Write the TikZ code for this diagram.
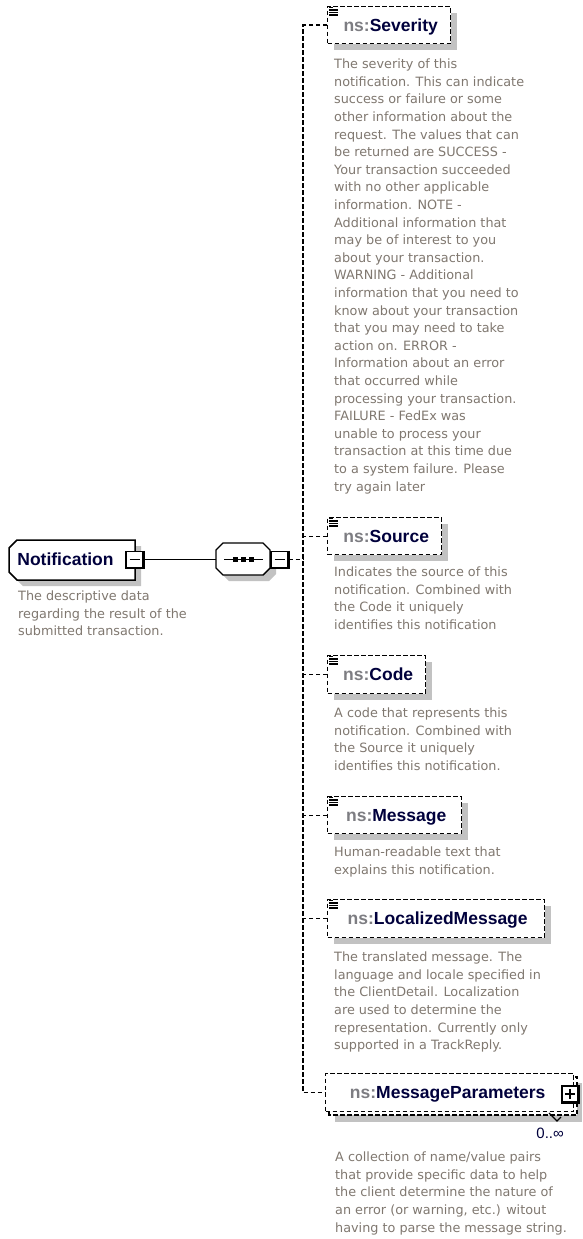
\documentclass[tikz,border=0pt]{standalone}
\usepackage{fontspec}
\setmainfont{DejaVu Sans}
\newfontfamily\namefont{Liberation Sans}
\usetikzlibrary{shadows}
\definecolor{desc}{RGB}{128,120,112}
\definecolor{nsgray}{RGB}{125,125,130}
\definecolor{navy}{RGB}{0,0,60}
\definecolor{shadowgray}{RGB}{194,194,194}
\newcommand{\elname}[1]{\kern3pt\textcolor{nsgray}{ns:}\textcolor{navy}{#1}}
\tikzset{
  descr/.style={anchor=north west, inner sep=0pt, align=left, text=desc,
    font=\fontsize{12.8}{17.6}\selectfont},
  namefnt/.style={font=\namefont\bfseries\fontsize{17.5}{20}\selectfont, text height=12.5pt, text depth=0pt},
  optbase/.style={draw, dash pattern=on 4.5pt off 2.5pt, line width=1.4pt, fill=white,
    anchor=north west, inner sep=0pt, minimum height=37pt, namefnt},
  optbox/.style={optbase,
    drop shadow={shadow xshift=6pt, shadow yshift=-6pt, fill=shadowgray, opacity=1}},
  conn/.style={dash pattern=on 4.5pt off 2.5pt, line width=1.4pt},
  solidline/.style={line width=1.4pt},
  pmbox/.style={draw, line width=1.2pt, fill=white, minimum width=16pt, minimum height=16pt, inner sep=0pt},
  docicon/.pic={
    \draw[line width=1.1pt] (2,1.5) -- (6,1.5) (2,4) -- (11,4) (2,6.5) -- (11,6.5) (2,9) -- (11,9);
  },
}
\begin{document}
\begin{tikzpicture}[x=1pt,y=-1pt]
\useasboundingbox[fill=white] (0,0) rectangle (582,1239);

% ---------- Notification element ----------
\fill[shadowgray] (23,546) -- (141,546) -- (141,586) -- (23,586) -- (15,578) -- (15,554) -- cycle;
\draw[line width=1.5pt, fill=white] (17,540) -- (135,540) -- (135,580) -- (17,580) -- (9,572) -- (9,548) -- cycle;
\node[namefnt, text=navy, inner sep=0pt] (notif) at (65.5,559.5) {Notification};
\node[pmbox, minimum width=17pt] (nm) at (134.5,559.5) {};
\draw[line width=2.4pt] (nm.north east) -- (nm.south east) -- (nm.south west);
\draw[line width=1.3pt] ([xshift=-5pt]nm.center) -- ([xshift=5pt]nm.center);
\node[descr] (notifd) at (18,588.2) {\strut The descriptive data\\regarding the result of the\\submitted transaction.};

% ---------- sequence compositor ----------
\fill[shadowgray] (229,549) -- (269,549) -- (276,556) -- (276,574) -- (269,581) -- (229,581) -- (222,574) -- (222,556) -- cycle;
\draw[solidline, fill=white] (223,543) -- (263,543) -- (270,550) -- (270,568) -- (263,575) -- (223,575) -- (216,568) -- (216,550) -- cycle;
\node[minimum width=54pt, minimum height=32pt, inner sep=0pt] (seq) at (243,559.5) {};
\draw[line width=1.3pt] (224,559.5) -- (263,559.5);
\foreach \cx in {235.5,243.5,251.5} \fill (\cx-2.5,557) rectangle (\cx+2.5,562);
\node[pmbox, minimum width=17pt] (sm) at (279.5,559.5) {};
\draw[line width=2.4pt] (sm.north east) -- (sm.south east) -- (sm.south west);
\draw[line width=1.3pt] ([xshift=-5pt]sm.center) -- ([xshift=5pt]sm.center);
\draw[solidline] (nm.east) -- (seq.west);
\coordinate (tr) at (303,559.5);
\draw[conn] (sm.east) -- (tr);

% ---------- child elements ----------
\node[optbox, minimum width=123pt] (sev) at (327,6) {\elname{Severity}};
\node[optbox, minimum width=114pt] (src) at (327,517) {\elname{Source}};
\node[optbox, minimum width=98pt, minimum height=38pt] (code) at (327,655) {\elname{Code}};
\node[optbox, minimum width=134pt] (msg) at (327,796) {\elname{Message}};
\node[optbox, minimum width=217pt, minimum height=38pt] (lmsg) at (327,899) {\elname{LocalizedMessage}};

% MessageParameters (multiple occurrence: two stacked boxes)
\fill[shadowgray] (335,1083) rectangle (582,1122);
\draw[conn, fill=white] (329,1077) rectangle (577,1115);
\node[optbase, minimum width=248pt, minimum height=38pt] (mp) at (325,1073) {\textcolor{nsgray}{ns:}\textcolor{navy}{MessageParameters}\kern4pt};
\node[pmbox] (mpp) at (570,1094) {};
\draw[line width=2.4pt] (mpp.north east) -- (mpp.south east) -- (mpp.south west);
\draw[line width=1.3pt] ([xshift=-5pt]mpp.center) -- ([xshift=5pt]mpp.center);
\draw[line width=1.3pt] ([yshift=5pt]mpp.center) -- ([yshift=-5pt]mpp.center);
\draw[line width=1.1pt] (549,1113) -- (557,1121) -- (561,1117);
\node[anchor=east, inner sep=0pt, text=navy, font=\namefont\fontsize{15}{18}\selectfont] (mult) at (564,1133) {0..∞};

\foreach \n in {sev,src,code,msg,lmsg} \pic at (\n.north west) {docicon};

% connectors
\draw[conn] (sev.west) -- ++(-24,0) |- (mp.west);
\foreach \n in {src,code,msg,lmsg} \draw[conn] (\n.west) -- ++(-24,0);

% ---------- descriptions ----------
\node[descr] (sevd) at (334,56.2) {\strut The severity of this\\notification. This can indicate\\success or failure or some\\other information about the\\request. The values that can\\be returned are SUCCESS -\\Your transaction succeeded\\with no other applicable\\information. NOTE -\\Additional information that\\may be of interest to you\\about your transaction.\\WARNING - Additional\\information that you need to\\know about your transaction\\that you may need to take\\action on. ERROR -\\Information about an error\\that occurred while\\processing your transaction.\\FAILURE - FedEx was\\unable to process your\\transaction at this time due\\to a system failure. Please\\try again later};
\node[descr] (srcd) at (334,564.2) {\strut Indicates the source of this\\notification. Combined with\\the Code it uniquely\\identifies this notification};
\node[descr] (coded) at (334,705.2) {\strut A code that represents this\\notification. Combined with\\the Source it uniquely\\identifies this notification.};
\node[descr] (msgd) at (334,844.2) {\strut Human-readable text that\\explains this notification.};
\node[descr] (lmsgd) at (334,949.2) {\strut The translated message. The\\language and locale specified in\\the ClientDetail. Localization\\are used to determine the\\representation. Currently only\\supported in a TrackReply.};
\node[descr] (mpd) at (335,1149.2) {\strut A collection of name/value pairs\\that provide specific data to help\\the client determine the nature of\\an error (or warning, etc.) witout\\having to parse the message string.};
\end{tikzpicture}
\end{document}
